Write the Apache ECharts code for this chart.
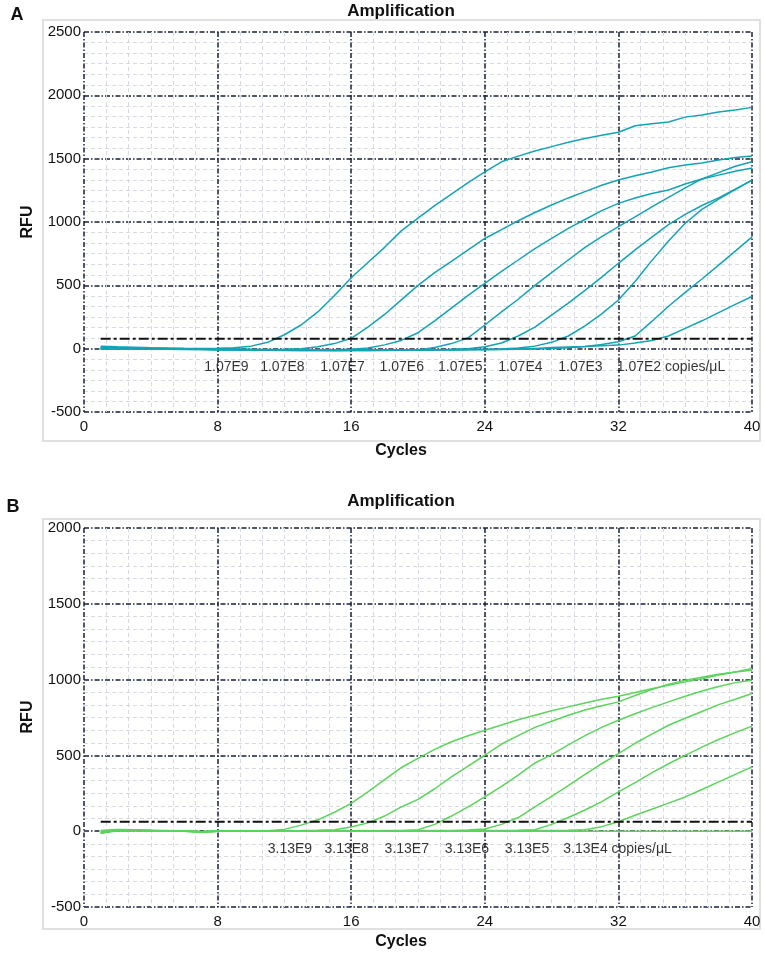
<!DOCTYPE html>
<html>
<head>
<meta charset="utf-8">
<script src="https://cdn.jsdelivr.net/npm/echarts@6/dist/echarts.min.js"></script>
<style>
  html, body { margin: 0; padding: 0; background: #fff; }
  #chart { width: 765px; height: 956px; }
</style>
</head>
<body>
<div id="chart"></div>
<script>
// cycles 1..40
const cycles = [];
for (let c = 1; c <= 40; c++) cycles.push(c);

const xTicks = [0, 8, 16, 24, 32, 40];

// Panel A (1.07E9 .. 1.07E2 copies/uL)
const aE9 = [20, 15, 12, 8, 5, 3, 2, 3, 8, 20, 50, 110, 187, 290, 420, 560, 680, 800, 930, 1030,
  1130, 1220, 1310, 1395, 1475, 1520, 1560, 1595, 1630, 1660, 1685, 1708, 1760, 1775, 1790, 1828, 1845, 1868, 1885, 1905];
const aE8 = [10, 8, 5, 3, 2, 0, -2, -4, -5, -6, -6, -5, 0, 15, 40, 82, 170, 270, 385, 500,
  600, 690, 780, 870, 940, 1010, 1075, 1134, 1190, 1240, 1290, 1332, 1365, 1395, 1429, 1450, 1465, 1490, 1510, 1521];
const aE7 = [5, 5, 3, 2, 0, -2, -4, -6, -8, -10, -10, -12, -12, -10, -8, -5, 5, 30, 65, 126,
  220, 320, 420, 516, 610, 700, 790, 870, 950, 1020, 1090, 1147, 1190, 1225, 1253, 1300, 1340, 1370, 1400, 1426];
const aE6 = [0, 0, -2, -3, -4, -5, -6, -8, -10, -12, -12, -14, -15, -15, -14, -13, -12, -10, -8, -10,
  10, 40, 85, 187, 290, 390, 500, 600, 700, 800, 885, 963, 1040, 1120, 1195, 1270, 1340, 1390, 1440, 1476];
const aE5 = [5, 4, 3, 1, 0, -2, -4, -5, -6, -8, -10, -12, -14, -15, -15, -15, -14, -13, -12, -10,
  -8, -5, 0, 15, 45, 100, 170, 265, 360, 460, 565, 674, 780, 880, 980, 1060, 1130, 1190, 1260, 1330];
const aE4 = [10, 8, 6, 4, 2, 0, -2, -4, -5, -6, -8, -10, -12, -13, -14, -15, -15, -14, -13, -12,
  -10, -8, -6, -4, -2, 5, 20, 50, 100, 180, 275, 384, 530, 695, 850, 990, 1100, 1180, 1255, 1330];
const aE3 = [0, 0, -1, -2, -3, -4, -5, -6, -7, -8, -9, -10, -11, -12, -12, -13, -13, -13, -12, -12,
  -11, -10, -9, -8, -6, -4, -2, 2, 8, 18, 32, 55, 100, 215, 335, 445, 550, 660, 770, 883];
const aE2 = [-2, -2, -3, -4, -5, -6, -7, -8, -9, -10, -10, -11, -12, -12, -12, -12, -11, -11, -10, -10,
  -9, -8, -7, -6, -5, -3, 2, 10, 14, 18, 23, 28, 45, 65, 100, 160, 220, 285, 350, 412];
const aThreshold = 78;
const aLabels = ['1.07E9', '1.07E8', '1.07E7', '1.07E6', '1.07E5', '1.07E4', '1.07E3', '1.07E2 copies/μL'];
const aLabelCycles = [7.2, 10.55, 14.15, 17.7, 21.2, 24.8, 28.4, 31.9];
const aLabelRfu = -145;
const aYTicks = [-500, 0, 500, 1000, 1500, 2000, 2500];

// Panel B (3.13E9 .. 3.13E4 copies/uL)
const bE9 = [-15, 10, 8, 5, 3, 0, -5, 0, 2, 2, 3, 12, 40, 75, 125, 183, 260, 340, 420, 480,
  540, 590, 630, 666, 700, 735, 765, 795, 820, 845, 870, 890, 915, 940, 963, 985, 1005, 1030, 1050, 1073];
const bE8 = [5, 12, 10, 6, 4, 2, -3, 0, 1, 2, 2, 3, 4, 6, 10, 28, 55, 100, 160, 210,
  280, 358, 430, 501, 575, 630, 685, 725, 765, 800, 828, 853, 895, 935, 970, 995, 1015, 1035, 1050, 1062];
const bE7 = [-10, 5, 6, 5, 3, 2, -4, 0, 1, 1, 0, 0, 1, 2, 2, 3, 3, 4, 5, 10,
  45, 100, 160, 226, 295, 370, 450, 505, 570, 630, 685, 732, 775, 815, 853, 890, 925, 955, 980, 996];
const bE6 = [0, 8, 6, 4, 2, 1, -3, 0, 0, 0, -1, -1, 0, 0, 1, 1, 2, 2, 3, 3,
  4, 5, 8, 15, 45, 90, 160, 230, 300, 375, 445, 512, 580, 640, 699, 745, 790, 835, 870, 908];
const bE5 = [-5, 6, 5, 3, 2, 0, -4, -1, 0, 0, 0, -1, -1, 0, 0, 1, 1, 1, 2, 2,
  2, 3, 3, 4, 5, 7, 10, 45, 90, 140, 195, 259, 320, 385, 445, 500, 555, 605, 650, 693];
const bE4 = [-8, 4, 4, 3, 2, 0, -4, -1, 0, 0, 0, 0, -1, -1, 0, 0, 0, 1, 1, 1,
  1, 2, 2, 2, 3, 3, 4, 5, 7, 10, 30, 62, 105, 145, 185, 226, 275, 325, 375, 424];
const bNtc = [-12, 2, 3, 2, 1, 0, -4, -1, 0, 0, -1, -1, 0, 0, 0, 0, 0, 0, 0, 0,
  0, 0, 0, 0, 0, 0, 0, 0, 0, 0, 0, 0, 0, 0, 0, 0, 0, 0, 0, 0];
const bThreshold = 62;
const bLabels = ['3.13E9', '3.13E8', '3.13E7', '3.13E6', '3.13E5', '3.13E4 copies/μL'];
const bLabelCycles = [11.0, 14.4, 18.0, 21.6, 25.2, 28.7];
const bLabelRfu = -119;
const bYTicks = [-500, 0, 500, 1000, 1500, 2000];

const TEAL = '#14a3b5';
const GREEN = '#5bd45b';
const FONT = 'Liberation Sans, Arial, sans-serif';

const chart = echarts.init(document.getElementById('chart'));

function pairs(values) {
  return values.map((v, i) => [cycles[i], v]);
}

// dash-dot major grid, light dashed minor grid
const majorLine = { color: '#17203a', width: 1.5, type: [5, 2, 1.5, 2] };
const minorLine = { color: '#d6dae4', width: 1, type: [4, 3] };

function xAxisFor(gridIndex) {
  return {
    type: 'value', gridIndex: gridIndex,
    min: xTicks[0], max: xTicks[xTicks.length - 1], interval: 8,
    axisLine: { show: false },
    axisTick: { show: false },
    axisLabel: { color: '#111', fontSize: 15, fontFamily: FONT, margin: 7 },
    splitLine: { show: true, lineStyle: majorLine },
    minorTick: { show: false, splitNumber: 6 },
    minorSplitLine: { show: true, lineStyle: minorLine }
  };
}

function yAxisFor(gridIndex, ticks) {
  return {
    type: 'value', gridIndex: gridIndex,
    min: ticks[0], max: ticks[ticks.length - 1], interval: 500,
    axisLine: { show: false },
    axisTick: { show: false },
    axisLabel: { color: '#111', fontSize: 15, fontFamily: FONT, margin: 3, formatter: v => String(v) },
    splitLine: { show: true, lineStyle: majorLine },
    minorTick: { show: false, splitNumber: 6 },
    minorSplitLine: { show: true, lineStyle: minorLine }
  };
}

function curve(values, color, idx) {
  return {
    type: 'line', xAxisIndex: idx, yAxisIndex: idx,
    data: pairs(values), symbol: 'none', silent: true, z: 3,
    lineStyle: { color: color, width: 1.5 }
  };
}

function threshold(value, idx) {
  return {
    type: 'line', xAxisIndex: idx, yAxisIndex: idx,
    data: [[cycles[0], value], [cycles[cycles.length - 1], value]],
    symbol: 'none', silent: true, z: 4,
    lineStyle: { color: '#111', width: 2, type: [10, 3, 3, 3] }
  };
}

function labels(texts, at, rfu, idx) {
  return {
    type: 'scatter', xAxisIndex: idx, yAxisIndex: idx,
    symbolSize: 0, silent: true, z: 5,
    data: texts.map((t, i) => ({ value: [at[i], rfu], name: t })),
    label: {
      show: true, position: 'right', distance: 0,
      formatter: p => p.name,
      color: '#000', fontSize: 14, fontFamily: FONT
    }
  };
}

const aSeries = [aE9, aE8, aE7, aE6, aE5, aE4, aE3, aE2].map(s => curve(s, TEAL, 0));
const bSeries = [bNtc, bE9, bE8, bE7, bE6, bE5, bE4].map(s => curve(s, GREEN, 1));

function text(str, x, y, font, extra) {
  return Object.assign({
    type: 'text', x: x, y: y, z: 10,
    style: { text: str, font: font, fill: '#111', align: 'center', verticalAlign: 'middle' }
  }, extra || {});
}

const option = {
  animation: false,
  backgroundColor: '#fff',
  grid: [
    { left: 84, top: 32, width: 668, height: 380 },
    { left: 84, top: 528, width: 668, height: 379 }
  ],
  xAxis: [xAxisFor(0), xAxisFor(1)],
  yAxis: [yAxisFor(0, aYTicks), yAxisFor(1, bYTicks)],
  series: [
    ...aSeries, threshold(aThreshold, 0), labels(aLabels, aLabelCycles, aLabelRfu, 0),
    ...bSeries, threshold(bThreshold, 1), labels(bLabels, bLabelCycles, bLabelRfu, 1)
  ],
  graphic: [
    { type: 'rect', z: 0, shape: { x: 43, y: 20, width: 717, height: 421 },
      style: { fill: 'none', stroke: '#d6d6d6', lineWidth: 1.5 } },
    { type: 'rect', z: 0, shape: { x: 43, y: 519, width: 717, height: 410 },
      style: { fill: 'none', stroke: '#d6d6d6', lineWidth: 1.5 } },
    text('A', 17, 15, 'bold 18px ' + FONT),
    text('B', 13, 507, 'bold 18px ' + FONT),
    text('Amplification', 401, 11, 'bold 17px ' + FONT),
    text('Amplification', 401, 501, 'bold 17px ' + FONT),
    text('Cycles', 401, 451, 'bold 16px ' + FONT),
    text('Cycles', 401, 942, 'bold 16px ' + FONT),
    text('RFU', 28, 222, 'bold 16px ' + FONT, { rotation: Math.PI / 2 }),
    text('RFU', 28, 717, 'bold 16px ' + FONT, { rotation: Math.PI / 2 })
  ]
};

chart.setOption(option);
</script>
</body>
</html>
